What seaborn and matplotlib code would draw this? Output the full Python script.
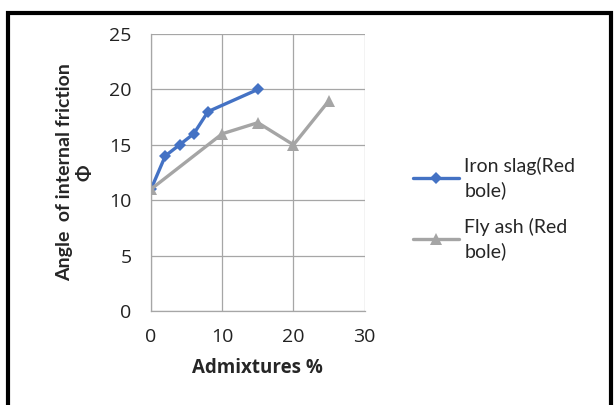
import matplotlib
matplotlib.use("Agg")
import matplotlib.pyplot as plt
import seaborn as sns
import pandas as pd
from matplotlib.patches import Rectangle

# Angle of internal friction vs. admixture content
iron_x = [0, 2, 4, 6, 8, 15]
iron_y = [11, 14, 15, 16, 18, 20]
fly_x = [0, 10, 15, 20, 25]
fly_y = [11, 16, 17, 15, 19]
series_names = ["Iron slag(Red\nbole)", "Fly ash (Red\nbole)"]

sns.set_style("white")
plt.rcParams["font.family"] = ["Open Sans", "DejaVu Sans"]
narrow = ["Lato", "DejaVu Sans"]

fig = plt.figure(figsize=(6.14, 4.05), dpi=100)
ax = fig.add_axes([0.246, 0.232, 0.348, 0.684])

iron = pd.DataFrame({"x": iron_x, "y": iron_y})
fly = pd.DataFrame({"x": fly_x, "y": fly_y})

sns.lineplot(data=iron, x="x", y="y", ax=ax, color="#4472C4", lw=2.4,
             marker="D", markersize=6.5, markeredgewidth=0, label=series_names[0])
sns.lineplot(data=fly, x="x", y="y", ax=ax, color="#A5A5A5", lw=2.4,
             marker="^", markersize=9, markeredgewidth=0, label=series_names[1])

ax.set_xlim(0, 30)
ax.set_ylim(0, 25)
ax.set_xticks([0, 10, 20, 30])
ax.set_yticks([0, 5, 10, 15, 20, 25])
ax.grid(True, color="#A6A6A6", lw=0.9)
for s in ["top", "right"]:
    ax.spines[s].set_visible(False)
for s in ["left", "bottom"]:
    ax.spines[s].set_color("#A6A6A6")
    ax.spines[s].set_linewidth(0.9)
ax.tick_params(axis="both", labelsize=14, colors="#A6A6A6", labelcolor="#222222",
               length=6, width=0.9, direction="out")
ax.tick_params(axis="y", pad=8)
ax.tick_params(axis="x", pad=6)

ax.set_xlabel("Admixtures %", fontsize=13.5, fontweight="bold", labelpad=9)
ax.set_ylabel("Angle  of internal friction\nΦ", fontsize=14, fontweight="bold",
              labelpad=11, linespacing=1.3, fontfamily=narrow)

leg = ax.legend(loc="center left", bbox_to_anchor=(1.143, 0.37), frameon=False,
                prop={"family": narrow, "size": 14},
                handlelength=2.4, labelspacing=1.0, handletextpad=0.25)
for t in leg.get_texts():
    t.set_linespacing(1.4)

# Outer frame (open at the bottom)
fig.patches.append(Rectangle((8 / 614, -0.05), (611 - 8) / 614, 1 - 13 / 405 + 0.05,
                             transform=fig.transFigure, fill=False,
                             edgecolor="black", lw=3))

fig.savefig("out.png", dpi=100)
